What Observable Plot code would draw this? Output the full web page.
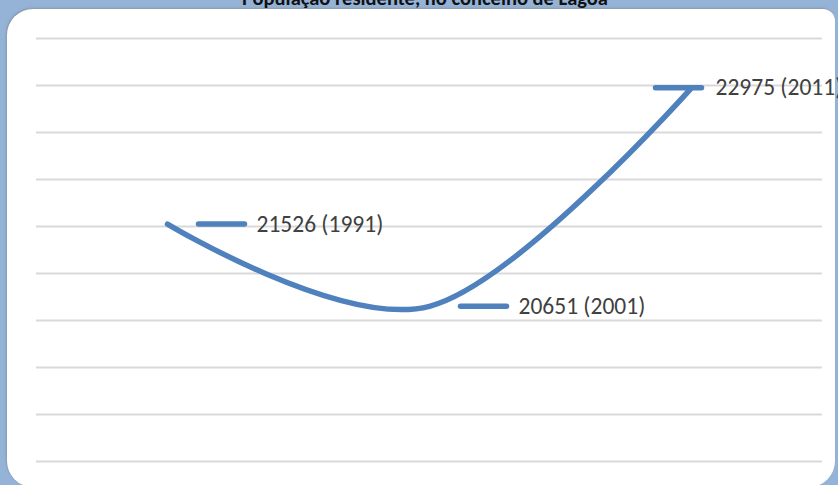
<!DOCTYPE html>
<html lang="pt">
<head>
<meta charset="utf-8">
<script src="https://cdn.jsdelivr.net/npm/d3@7"></script>
<script src="https://cdn.jsdelivr.net/npm/@observablehq/plot@0.6"></script>
<style>
  html, body { margin: 0; padding: 0; }
  body { background: #95b3d7; }
  #frame { position: relative; width: 838px; height: 485px; overflow: hidden; background: #95b3d7; }
  #panel {
    position: absolute; left: 7px; top: 9px; width: 828px; height: 478px;
    background: #ffffff; border-radius: 26px 12px 26px 26px;
    box-shadow: -1px -1px 2px rgba(120,120,120,0.45);
  }
  #title {
    position: absolute; left: 0; width: 850px; top: -12px; text-align: center;
    font: bold 20.5px Carlito, Calibri, Lato, sans-serif; line-height: 21px; color: #111111;
  }
  #chart { position: absolute; left: 0; top: 0; }
  #chart svg { background: transparent; overflow: hidden; }
</style>
</head>
<body>
<div id="frame">
  <div id="panel"></div>
  <div id="chart"></div>
  <div id="title">População residente, no concelho de Lagoa</div>
</div>
<script>
// Resident population of the municipality of Lagoa, census years
const years = ["1991", "2001", "2011"];
const population = [21526, 20651, 22975];

const yDomain = [19000, 23500];
const yTicks = d3.range(19000, 23501, 500);

const data = years.map((year, i) => ({year, value: population[i]}));

const blue = "#4f81bd";
const labelFont = "Carlito, Calibri, Lato, sans-serif";

// short horizontal dash used as the series key beside each label
const dash = {
  draw(context) {
    context.moveTo(-23, 0);
    context.lineTo(23, 0);
  }
};

const label = d => `${d.value} (${d.year})`;
const first = data.slice(0, 2);
const last = data.slice(2);

const chart = Plot.plot({
  width: 838,
  height: 485,
  marginLeft: 36,
  marginRight: 16,
  marginTop: 38,
  marginBottom: 24,
  x: {type: "point", domain: years, padding: 0.5, axis: null},
  y: {domain: yDomain, axis: null},
  marks: [
    Plot.gridY(yTicks, {stroke: "#d9d9d9", strokeOpacity: 1, strokeWidth: 2}),
    Plot.line(data, {
      x: "year", y: "value", curve: "cardinal",
      stroke: blue, strokeWidth: 5.5, strokeLinecap: "round", strokeLinejoin: "round"
    }),
    Plot.dot(first, {
      x: "year", y: "value", symbol: dash, dx: 54,
      fill: "none", stroke: blue, strokeWidth: 5.5, strokeLinecap: "round"
    }),
    Plot.dot(last, {
      x: "year", y: "value", symbol: dash, dx: -13,
      fill: "none", stroke: blue, strokeWidth: 5.5, strokeLinecap: "round"
    }),
    Plot.text(first, {
      x: "year", y: "value", text: label, dx: 89, textAnchor: "start",
      fill: "#404040", fontSize: 23.5, fontFamily: labelFont
    }),
    Plot.text(last, {
      x: "year", y: "value", text: label, dx: 24, textAnchor: "start",
      fill: "#404040", fontSize: 23.5, fontFamily: labelFont
    })
  ]
});

document.getElementById("chart").append(chart);
</script>
</body>
</html>
